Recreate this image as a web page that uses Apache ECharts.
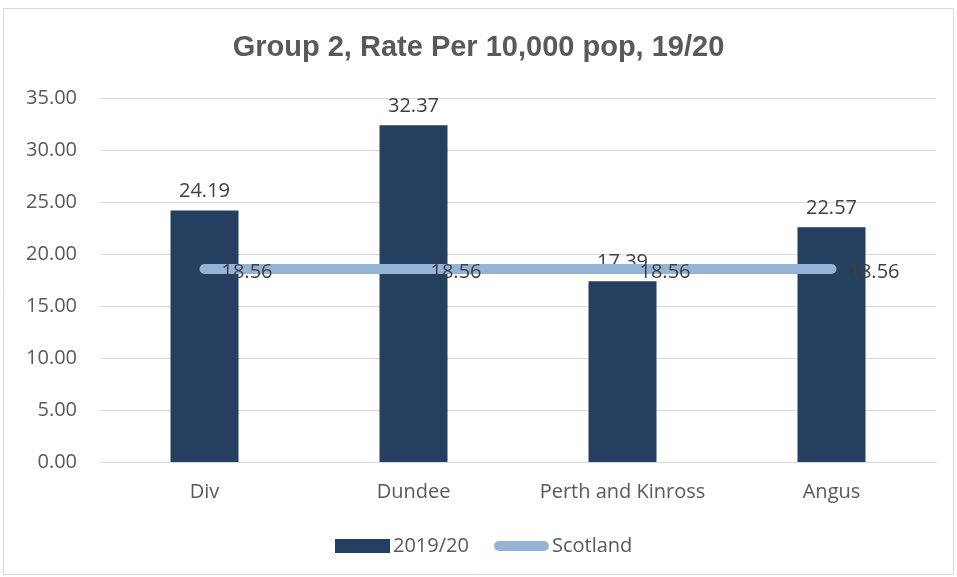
<!DOCTYPE html>
<html>
<head>
<meta charset="utf-8">
<script src="https://cdn.jsdelivr.net/npm/echarts@6/dist/echarts.min.js"></script>
<style>
html, body { margin: 0; padding: 0; background: #fff; }
#main { width: 957px; height: 577px; }
</style>
</head>
<body>
<div id="main"></div>
<script>
// data
const categories = ['Div', 'Dundee', 'Perth and Kinross', 'Angus'];
const rate1920 = [24.19, 32.37, 17.39, 22.57];
const scotland = [18.56, 18.56, 18.56, 18.56];

var chartDom = document.getElementById('main');
var myChart = echarts.init(chartDom);
var txt = '#595959';
var font = 'Open Sans, sans-serif';

var option = {
  backgroundColor: '#fff',
  animation: false,
  graphic: [{
    type: 'rect',
    shape: { x: 3.5, y: 8.5, width: 950, height: 566 },
    style: { fill: 'none', stroke: '#d9d9d9', lineWidth: 1 },
    silent: true
  }],
  title: {
    text: 'Group 2, Rate Per 10,000 pop, 19/20',
    left: 'center',
    top: 28,
    textStyle: { color: '#595959', fontSize: 29, fontWeight: 'bold', fontFamily: 'Liberation Sans, Arial, sans-serif' }
  },
  legend: {
    bottom: 16,
    left: 330,
    itemGap: 25,
    itemWidth: 55,
    itemHeight: 14,
    textStyle: { color: txt, fontSize: 20, fontFamily: font, padding: [0, 0, 0, -2] },
    data: [
      { name: '2019/20', icon: 'rect' },
      { name: 'Scotland', icon: 'path://M5,3 L50,3 A5,5 0 0 1 50,13 L5,13 A5,5 0 0 1 5,3 Z',
        itemStyle: { color: '#95b3d7', opacity: 1 } }
    ]
  },
  grid: { left: 100, right: 21, top: 98, bottom: 115, containLabel: false },
  xAxis: {
    type: 'category',
    data: categories,
    axisTick: { show: false },
    axisLine: { lineStyle: { color: '#d9d9d9' } },
    axisLabel: { color: txt, fontSize: 20, fontFamily: font, margin: 20, interval: 0 }
  },
  yAxis: {
    type: 'value',
    min: 0,
    max: 35,
    interval: 5,
    axisLabel: { color: txt, fontSize: 20, fontFamily: font, margin: 23,
      formatter: function (v) { return v.toFixed(2); } },
    splitLine: { lineStyle: { color: '#d9d9d9' } }
  },
  series: [
    {
      name: '2019/20',
      type: 'bar',
      data: rate1920,
      barWidth: 68,
      itemStyle: { color: '#243f60' },
      label: {
        show: true, position: 'top', distance: 9,
        color: '#404040', fontSize: 20, fontFamily: font,
        formatter: function (p) { return p.value.toFixed(2); }
      }
    },
    {
      name: 'Scotland',
      type: 'line',
      data: scotland,
      symbol: 'circle',
      symbolSize: 2,
      showSymbol: true,
      lineStyle: { color: '#95b3d7', width: 10, cap: 'round' },
      itemStyle: { color: '#95b3d7' },
      label: {
        show: true, position: 'right', distance: 16, offset: [0, 3],
        color: '#404040', fontSize: 20, fontFamily: font,
        formatter: function (p) { return p.value.toFixed(2); }
      }
    }
  ]
};
myChart.setOption(option);
window.addEventListener('resize', () => { myChart.resize(); });
</script>
</body>
</html>
